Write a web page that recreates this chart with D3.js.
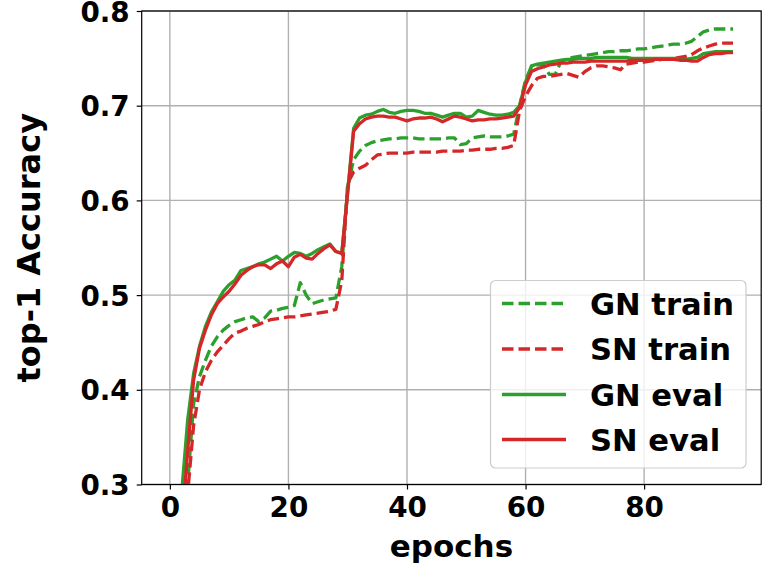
<!DOCTYPE html>
<html><head><meta charset="utf-8">
<script src="https://cdn.jsdelivr.net/npm/d3@7"></script>
<style>html,body{margin:0;padding:0;background:#fff;}svg{display:block;}</style>
</head><body>
<script>
const epochs = d3.range(0, 96);
const gnTrain = [0.05,0.15,0.24,0.300,0.385,0.414,0.431,0.446,0.456,0.463,
 0.468,0.472,0.474,0.476,0.477,0.472,0.476,0.483,0.484,0.486,
 0.487,0.489,0.513,0.500,0.491,0.493,0.495,0.496,0.497,0.530,
 0.615,0.643,0.652,0.658,0.661,0.663,0.664,0.665,0.665,0.666,
 0.666,0.666,0.665,0.665,0.665,0.665,0.665,0.666,0.666,0.659,
 0.660,0.666,0.667,0.668,0.667,0.667,0.667,0.668,0.670,0.700,
 0.727,0.741,0.743,0.744,0.733,0.733,0.747,0.749,0.751,0.752,
 0.753,0.754,0.755,0.756,0.757,0.757,0.758,0.758,0.759,0.760,
 0.760,0.761,0.762,0.763,0.764,0.765,0.765,0.766,0.768,0.773,
 0.778,0.780,0.781,0.781,0.781,0.781];
const snTrain = [0.04,0.13,0.22,0.290,0.362,0.400,0.419,0.431,0.440,0.447,
 0.454,0.460,0.462,0.465,0.467,0.469,0.472,0.474,0.475,0.476,
 0.477,0.477,0.478,0.479,0.480,0.481,0.482,0.483,0.485,0.515,
 0.618,0.630,0.634,0.637,0.643,0.648,0.649,0.650,0.650,0.650,
 0.650,0.651,0.651,0.651,0.651,0.651,0.652,0.652,0.652,0.652,
 0.653,0.653,0.654,0.654,0.654,0.655,0.655,0.656,0.658,0.695,
 0.710,0.721,0.729,0.731,0.731,0.732,0.733,0.734,0.732,0.730,
 0.736,0.740,0.742,0.742,0.741,0.740,0.738,0.744,0.745,0.746,
 0.746,0.747,0.748,0.749,0.749,0.750,0.751,0.752,0.754,0.758,
 0.761,0.763,0.765,0.766,0.766,0.766];
const gnEval = [0.08,0.20,0.292,0.368,0.417,0.446,0.467,0.482,0.493,0.504,
 0.511,0.516,0.526,0.528,0.530,0.533,0.535,0.538,0.541,0.536,
 0.541,0.545,0.544,0.541,0.544,0.548,0.551,0.554,0.546,0.544,
 0.610,0.676,0.687,0.690,0.691,0.694,0.696,0.693,0.692,0.694,
 0.695,0.695,0.694,0.692,0.692,0.690,0.688,0.690,0.692,0.692,
 0.688,0.689,0.695,0.693,0.691,0.690,0.690,0.691,0.693,0.700,
 0.725,0.742,0.744,0.745,0.746,0.747,0.748,0.749,0.749,0.750,
 0.750,0.750,0.751,0.751,0.751,0.751,0.751,0.751,0.750,0.750,
 0.750,0.750,0.750,0.750,0.750,0.750,0.749,0.749,0.750,0.751,
 0.755,0.756,0.757,0.757,0.757,0.757];
const snEval = [0.06,0.17,0.255,0.335,0.410,0.444,0.463,0.479,0.491,0.498,
 0.504,0.512,0.521,0.526,0.530,0.532,0.532,0.528,0.533,0.536,
 0.530,0.540,0.543,0.539,0.538,0.544,0.549,0.553,0.546,0.544,
 0.608,0.673,0.681,0.686,0.688,0.689,0.689,0.688,0.688,0.686,
 0.684,0.686,0.687,0.687,0.688,0.686,0.683,0.686,0.689,0.688,
 0.686,0.684,0.685,0.685,0.686,0.686,0.687,0.688,0.689,0.698,
 0.722,0.736,0.739,0.741,0.743,0.744,0.745,0.745,0.746,0.746,
 0.746,0.747,0.747,0.747,0.747,0.747,0.747,0.747,0.748,0.748,
 0.748,0.748,0.749,0.749,0.749,0.749,0.748,0.748,0.747,0.747,
 0.751,0.754,0.755,0.755,0.756,0.756];
const xTicks = [0, 20, 40, 60, 80];
const yTicks = [0.3, 0.4, 0.5, 0.6, 0.7, 0.8];
const seriesNames = ["GN train", "SN train", "GN eval", "SN eval"];
const seriesData = [gnTrain, snTrain, gnEval, snEval];
const seriesColors = ["#2ca02c", "#d62728", "#2ca02c", "#d62728"];
const seriesDashed = [true, true, false, false];

const W = 762, H = 575;
const L = 141.7, R = 761.2, T = 11, B = 484.5;
const FONT = "'DejaVu Sans', sans-serif";

const svg = d3.select("body").append("svg").attr("width", W).attr("height", H);
const x = d3.scaleLinear().domain([-4.75, 99.75]).range([L, R]);
const y = d3.scaleLinear().domain([0.3, 0.8]).range([B, T]);

svg.append("defs").append("clipPath").attr("id", "clip")
  .append("rect").attr("x", L).attr("y", T).attr("width", R - L).attr("height", B - T);

// grid
const grid = svg.append("g");
grid.selectAll(".gx").data(xTicks).join("line")
  .attr("x1", d => x(d)).attr("x2", d => x(d)).attr("y1", T).attr("y2", B)
  .attr("stroke", "#b0b0b0").attr("stroke-width", 1.4);
grid.selectAll(".gy").data(yTicks).join("line")
  .attr("x1", L).attr("x2", R).attr("y1", d => y(d)).attr("y2", d => y(d))
  .attr("stroke", "#b0b0b0").attr("stroke-width", 1.4);

// lines
const line = d3.line().x((d, i) => x(epochs[i])).y(d => y(d));
const plot = svg.append("g").attr("clip-path", "url(#clip)");
seriesData.forEach((s, k) => {
  plot.append("path").datum(s).attr("d", line)
    .attr("fill", "none").attr("stroke", seriesColors[k])
    .attr("stroke-width", 3.3)
    .attr("stroke-linejoin", "round")
    .attr("stroke-dasharray", seriesDashed[k] ? "11.5,5" : null);
});

// axes
const xAxis = d3.axisBottom(x).tickValues(xTicks).tickSize(5).tickPadding(6).tickFormat(d3.format("d"));
const yAxis = d3.axisLeft(y).tickValues(yTicks).tickSize(5).tickPadding(7).tickFormat(d3.format(".1f"));
const gx = svg.append("g").attr("transform", `translate(0,${B})`).call(xAxis);
const gy = svg.append("g").attr("transform", `translate(${L},0)`).call(yAxis);
[gx, gy].forEach(g => {
  g.select(".domain").remove();
  g.selectAll(".tick line").attr("stroke", "#000").attr("stroke-width", 1.2);
  g.selectAll(".tick text").attr("font-family", FONT).attr("font-weight", "bold")
    .attr("font-size", 27.8).attr("fill", "#000");
});
gy.selectAll(".tick text").attr("dy", "0.36em");
gx.selectAll(".tick text").attr("dy", "0.76em");

// spines
svg.append("rect").attr("x", L).attr("y", T).attr("width", R - L).attr("height", B - T)
  .attr("fill", "none").attr("stroke", "#000").attr("stroke-width", 1.2);

// axis labels
svg.append("text").attr("x", (L + R) / 2).attr("y", 557).attr("text-anchor", "middle")
  .attr("font-family", FONT).attr("font-weight", "bold").attr("font-size", 31).text("epochs");
svg.append("text").attr("transform", `translate(40,${(T + B) / 2}) rotate(-90)`)
  .attr("text-anchor", "middle")
  .attr("font-family", FONT).attr("font-weight", "bold").attr("font-size", 32).text("top-1 Accuracy");

// legend
const lg = svg.append("g");
lg.append("rect").attr("x", 490.5).attr("y", 280.5).attr("width", 255.5).attr("height", 187.5)
  .attr("rx", 5).attr("fill", "#fff").attr("fill-opacity", 0.8)
  .attr("stroke", "#cccccc").attr("stroke-width", 1.2);
const rowY = [303.5, 349, 394.5, 439.5];
seriesNames.forEach((name, k) => {
  lg.append("line").attr("x1", 502).attr("x2", 566).attr("y1", rowY[k]).attr("y2", rowY[k])
    .attr("stroke", seriesColors[k]).attr("stroke-width", 3.3)
    .attr("stroke-dasharray", seriesDashed[k] ? "11.5,5" : null);
  lg.append("text").attr("x", 590).attr("y", rowY[k]).attr("dy", "0.36em")
    .attr("font-family", FONT).attr("font-weight", "bold").attr("font-size", 30.6)
    .attr("fill", "#000").text(name);
});
</script>
</body></html>
